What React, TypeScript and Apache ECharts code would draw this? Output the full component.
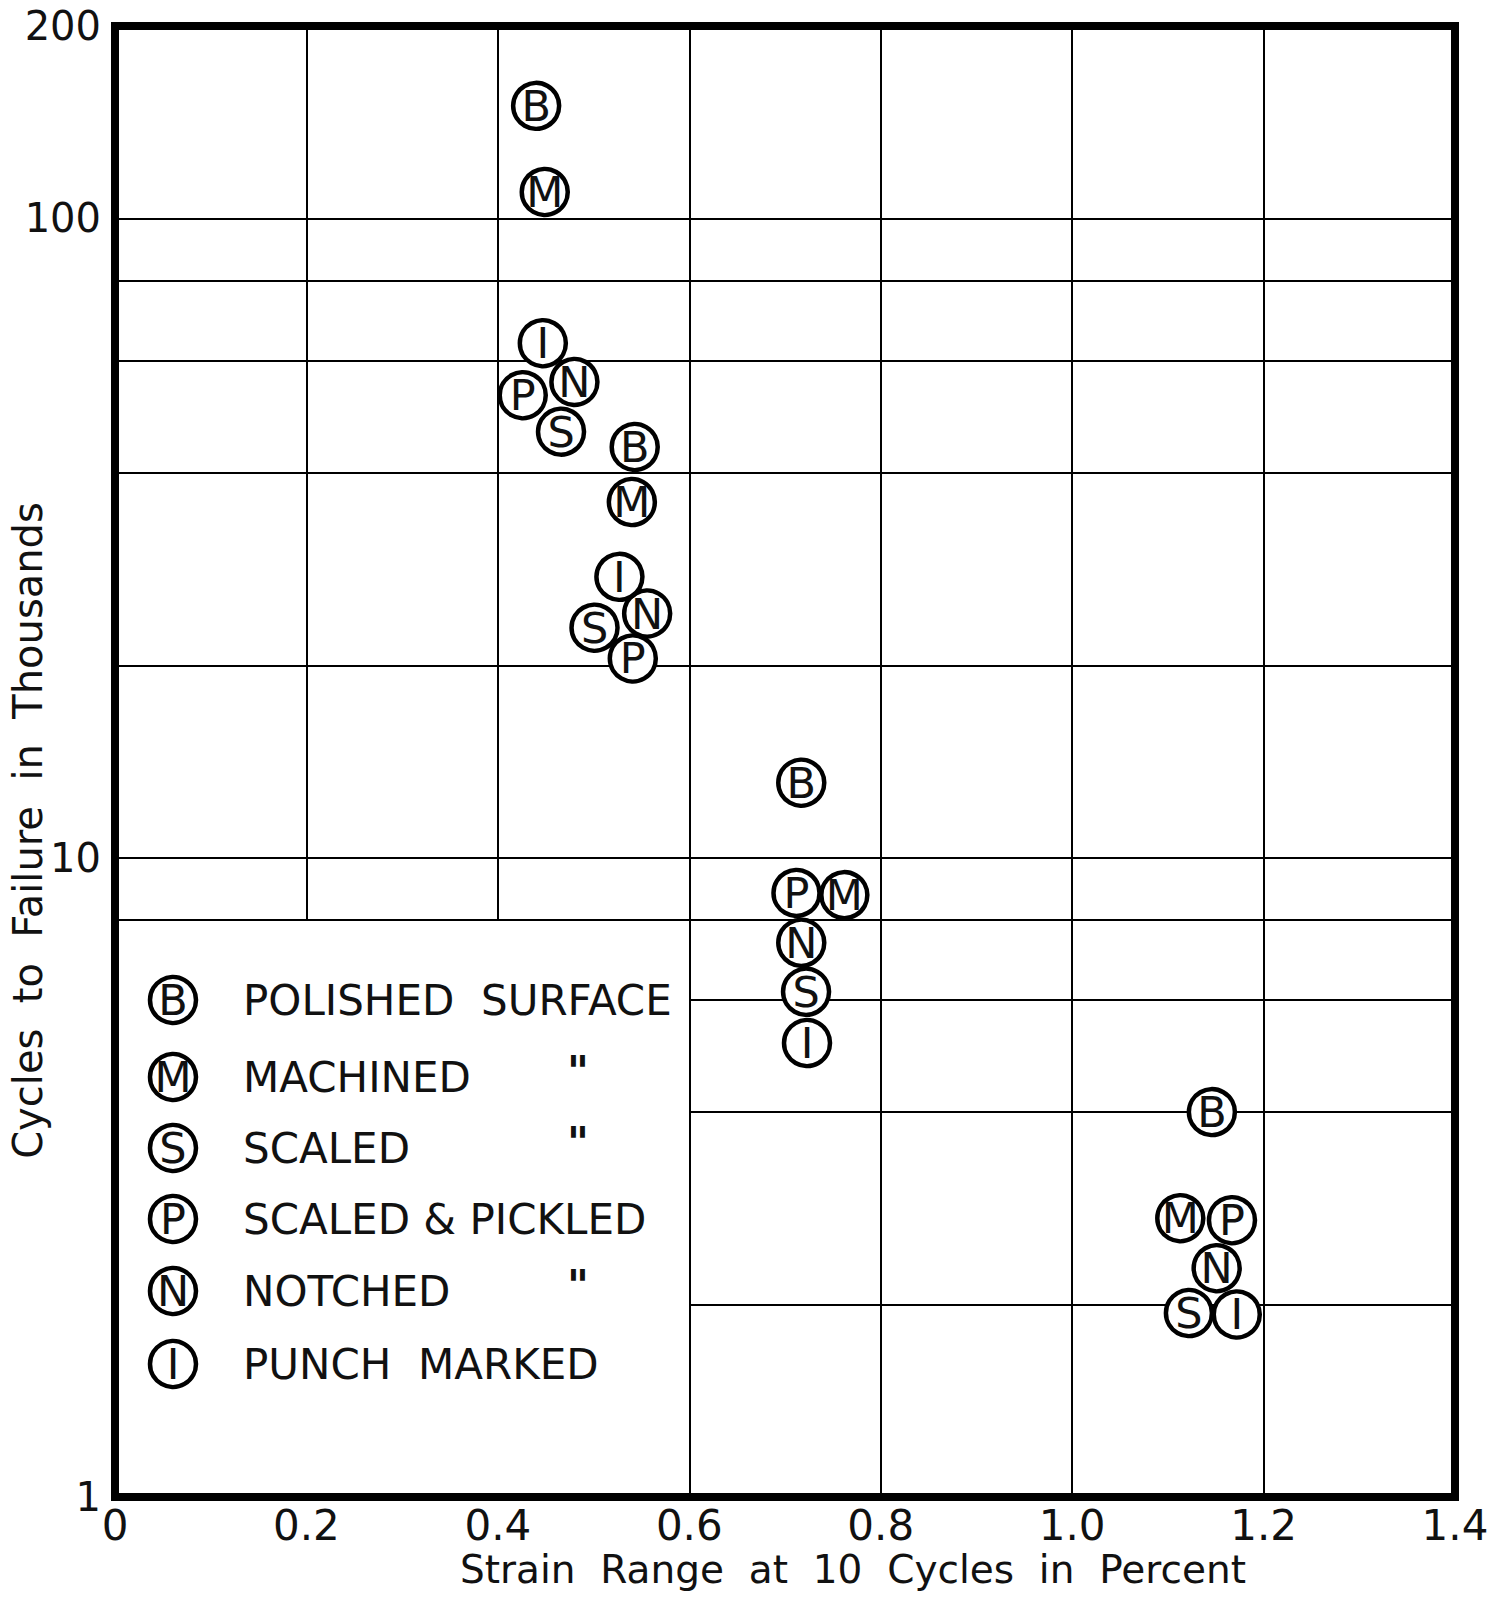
import React, { useEffect, useRef } from "react";
import * as echarts from "echarts";

const FONT = "DejaVu Sans";
const INK = "#111";

// Strain range at 10 cycles (%) and cycles to failure (thousands), per surface condition
const polishedX = [0.44, 0.543, 0.717, 1.146];
const polishedY = [150, 43.9, 13.1, 4.0];
const machinedX = [0.449, 0.54, 0.762, 1.113];
const machinedY = [110, 36.0, 8.74, 2.73];
const scaledX = [0.466, 0.501, 0.722, 1.122];
const scaledY = [46.4, 22.9, 6.17, 1.94];
const pickledX = [0.426, 0.541, 0.712, 1.167];
const pickledY = [52.9, 20.5, 8.81, 2.71];
const notchedX = [0.48, 0.556, 0.717, 1.151];
const notchedY = [55.5, 24.1, 7.36, 2.28];
const punchX = [0.447, 0.527, 0.723, 1.172];
const punchY = [63.8, 27.5, 5.13, 1.93];

const letters = ["B", "M", "S", "P", "N", "I"];
const conditionNames = [
  "POLISHED  SURFACE",
  "MACHINED",
  "SCALED",
  "SCALED & PICKLED",
  "NOTCHED",
  "PUNCH  MARKED",
];
const dittoRows = [false, true, true, false, true, false];

// grid lines
const xGridFull = [0.6, 0.8, 1.0, 1.2];
const xGridUpper = [0.2, 0.4]; // stop at the legend box (y = 8)
const yGridFull = [100, 80, 60, 40, 20, 10, 8];
const yGridRight = [6, 4, 2]; // start at x = 0.6
const X_MIN = 0;
const X_MAX = 1.4;
const Y_MIN = 1;
const Y_MAX = 200;
const LEGEND_TOP_Y = 8;
const LEGEND_RIGHT_X = 0.6;

const xTitle = "Strain  Range  at  10  Cycles  in  Percent";
const yTitle = "Cycles  to  Failure  in  Thousands";

const seriesXs = [polishedX, machinedX, scaledX, pickledX, notchedX, punchX];
const seriesYs = [polishedY, machinedY, scaledY, pickledY, notchedY, punchY];

export default function App() {
  const ref = useRef<HTMLDivElement>(null);

  useEffect(() => {
    if (!ref.current) return;
    const chart = echarts.init(ref.current, undefined, { renderer: "svg" });

    const gridLines: any[] = [];
    xGridFull.forEach((x) =>
      gridLines.push([{ coord: [x, Y_MIN] }, { coord: [x, Y_MAX] }])
    );
    xGridUpper.forEach((x) =>
      gridLines.push([{ coord: [x, LEGEND_TOP_Y] }, { coord: [x, Y_MAX] }])
    );
    yGridFull.forEach((y) =>
      gridLines.push([{ coord: [X_MIN, y] }, { coord: [X_MAX, y] }])
    );
    yGridRight.forEach((y) =>
      gridLines.push([{ coord: [LEGEND_RIGHT_X, y] }, { coord: [X_MAX, y] }])
    );

    const markerSeries = letters.map((letter, i) => ({
      type: "scatter",
      name: conditionNames[i],
      z: 10,
      symbol: "circle",
      symbolSize: 46,
      itemStyle: { color: "#fff", borderColor: "#000", borderWidth: 4.5, opacity: 1 },
      label: {
        show: true,
        position: "inside",
        formatter: () => letter,
        fontFamily: FONT,
        fontSize: 43,
        color: INK,
      },
      emphasis: { disabled: true },
      data: seriesXs[i].map((x, j) => [x, seriesYs[i][j]]),
    }));

    const legendRowsY = [1000, 1077, 1148, 1219, 1291, 1364];
    const graphics: any[] = [];
    letters.forEach((letter, i) => {
      const cy = legendRowsY[i];
      graphics.push({
        type: "circle",
        shape: { cx: 173, cy, r: 23 },
        style: { fill: "#fff", stroke: "#000", lineWidth: 4.5 },
        z: 20,
      });
      graphics.push({
        type: "text",
        x: 173,
        y: cy,
        style: {
          text: letter,
          fontFamily: FONT,
          fontSize: 43,
          fill: INK,
          align: "center",
          verticalAlign: "middle",
        },
        z: 21,
      });
      graphics.push({
        type: "text",
        x: 243,
        y: cy,
        style: {
          text: conditionNames[i],
          fontFamily: FONT,
          fontSize: 42,
          fill: INK,
          align: "left",
          verticalAlign: "middle",
        },
        z: 21,
      });
      if (dittoRows[i]) {
        graphics.push({
          type: "text",
          x: 578,
          y: cy - 6,
          style: {
            text: '"',
            fontFamily: FONT,
            fontSize: 42,
            fontWeight: "bold",
            fill: INK,
            align: "center",
            verticalAlign: "middle",
          },
          z: 21,
        });
      }
    });

    chart.setOption({
      animation: false,
      backgroundColor: "#fff",
      grid: {
        left: 115,
        right: 47,
        top: 26,
        bottom: 101,
        show: true,
        borderColor: "#000",
        borderWidth: 8,
        backgroundColor: "transparent",
        containLabel: false,
        outerBoundsMode: "none",
      },
      xAxis: {
        type: "value",
        min: X_MIN,
        max: X_MAX,
        interval: 0.2,
        axisLine: { show: false },
        axisTick: { show: false },
        splitLine: { show: false },
        axisLabel: {
          fontFamily: FONT,
          fontSize: 42,
          lineHeight: 40,
          color: INK,
          margin: 8,
          formatter: (v: number) => (v === 0 ? "0" : v.toFixed(1)),
        },
        name: xTitle,
        nameLocation: "middle",
        nameGap: 53,
        nameMoveOverlap: false,
        nameTextStyle: {
          fontFamily: FONT,
          fontSize: 39,
          lineHeight: 38,
          color: INK,
          padding: [0, 0, 0, 136],
        },
      },
      yAxis: {
        type: "log",
        logBase: 10,
        min: Y_MIN,
        max: Y_MAX,
        axisLine: { show: false },
        axisTick: { show: false },
        splitLine: { show: false },
        minorSplitLine: { show: false },
        axisLabel: {
          fontFamily: FONT,
          fontSize: 40,
          color: INK,
          margin: 14,
          formatter: (v: number) => String(Math.round(v)),
        },
        name: yTitle,
        nameLocation: "middle",
        nameGap: 67,
        nameMoveOverlap: false,
        nameTextStyle: {
          fontFamily: FONT,
          fontSize: 40,
          lineHeight: 40,
          color: INK,
          padding: [0, 138, 0, 0],
        },
      },
      series: [
        {
          type: "scatter",
          name: "grid",
          z: 1,
          silent: true,
          data: [],
          markLine: {
            silent: true,
            z: 1,
            symbol: ["none", "none"],
            label: { show: false },
            lineStyle: { color: "#000", width: 2, type: "solid" },
            emphasis: { disabled: true },
            data: gridLines,
          },
        },
        ...markerSeries,
      ],
      graphic: graphics,
    });

    return () => chart.dispose();
  }, []);

  return (
    <div
      ref={ref}
      style={{ position: "absolute", left: 0, top: 0, width: 1502, height: 1598 }}
    />
  );
}
